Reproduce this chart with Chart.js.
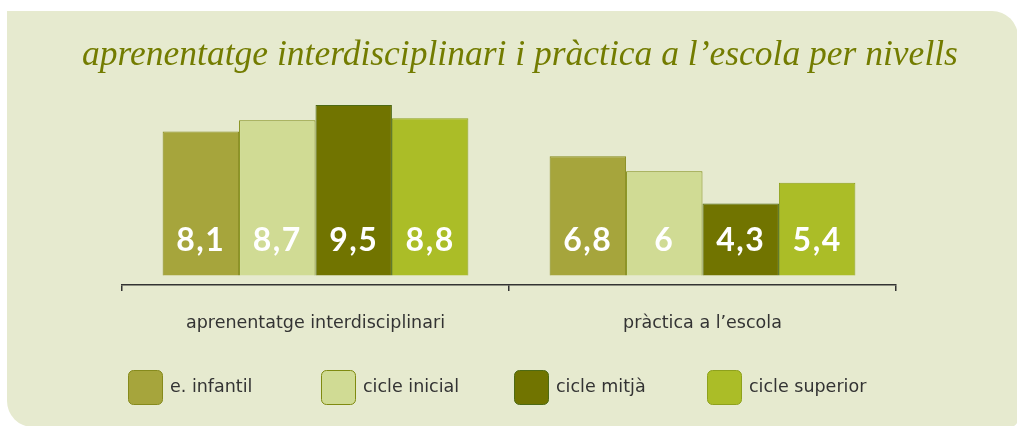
<!DOCTYPE html>
<html>
<head>
<meta charset="utf-8">
<script src="https://cdn.jsdelivr.net/npm/chart.js@4.4.1/dist/chart.umd.min.js"></script>
<style>
  html, body { margin: 0; padding: 0; background: #fff; }
  #wrap { width: 1017px; height: 426px; }
</style>
</head>
<body>
<div id="wrap"><canvas id="myChart" width="1017" height="426"></canvas></div>
<script>
// data
const categories = ['aprenentatge interdisciplinari', 'pràctica a l\u2019escola'];
const levels = ['e. infantil', 'cicle inicial', 'cicle mitjà', 'cicle superior'];
const infantil = [8.1, 6.8];
const inicial = [8.7, 6];
const mitja = [9.5, 4.3];
const superior = [8.8, 5.4];

const fills = ['#a6a53c', '#d0db94', '#717400', '#abbd27'];
const borders = ['#868a1c', '#7f8a10', '#4d6a14', '#8ea11c'];

const txt = '#333333';
const sans = "'DejaVu Sans', sans-serif";

// panel behind everything
const panel = {
    id: 'panel',
    beforeDraw: function (chart) {
        const ctx = chart.ctx;
        ctx.save();
        ctx.fillStyle = '#ffffff';
        ctx.fillRect(0, 0, chart.width, chart.height);
        ctx.fillStyle = '#e6eacf';
        ctx.beginPath();
        ctx.roundRect(7, 11, chart.width - 7 + 1, chart.height - 11 + 1, [0, 26, 8, 26]);
        ctx.fill();
        ctx.restore();
    }
};

// white numbers at the foot of each bar
const valueLabels = {
    id: 'valueLabels',
    afterDatasetsDraw: function (chart) {
        const ctx = chart.ctx;
        ctx.save();
        ctx.fillStyle = '#ffffff';
        ctx.font = "bold 32px Lato, 'DejaVu Sans', sans-serif";
        if ('letterSpacing' in ctx) ctx.letterSpacing = '1.5px';
        ctx.textAlign = 'center';
        ctx.textBaseline = 'middle';
        chart.data.datasets.forEach(function (ds, i) {
            chart.getDatasetMeta(i).data.forEach(function (bar, j) {
                const s = String(ds.data[j]).replace('.', ',');
                ctx.fillText(s, bar.x, bar.base - 35);
            });
        });
        ctx.restore();
    }
};

// legend row under the axis
const legendRow = {
    id: 'legendRow',
    afterDraw: function (chart) {
        const ctx = chart.ctx;
        const step = 193, box = 34;
        const x0 = chart.chartArea.left + 6;
        const y0 = chart.height - 56;
        ctx.save();
        ctx.font = '17.5px ' + sans;
        ctx.textBaseline = 'middle';
        ctx.textAlign = 'left';
        chart.data.datasets.forEach(function (ds, i) {
            const x = x0 + i * step;
            ctx.fillStyle = ds.backgroundColor;
            ctx.strokeStyle = ds.borderColor;
            ctx.lineWidth = 1;
            ctx.beginPath();
            ctx.roundRect(x + 0.5, y0 + 0.5, box, box, 5);
            ctx.fill();
            ctx.stroke();
            ctx.fillStyle = txt;
            ctx.fillText(ds.label, x + box + 8, y0 + box / 2);
        });
        ctx.restore();
    }
};

const series = [infantil, inicial, mitja, superior];

new Chart(document.getElementById('myChart'), {
    type: 'bar',
    data: {
        labels: categories,
        datasets: series.map(function (vals, i) {
            return {
                label: levels[i],
                data: vals,
                backgroundColor: fills[i],
                borderColor: borders[i],
                borderWidth: 1,
                base: 0.5,
                categoryPercentage: 0.79,
                barPercentage: 1
            };
        })
    },
    options: {
        responsive: false,
        animation: false,
        devicePixelRatio: 1,
        layout: { padding: { left: 23, right: 0, top: 0, bottom: 70 } },
        plugins: {
            legend: { display: false },
            tooltip: { enabled: false },
            title: {
                display: true,
                text: 'aprenentatge interdisciplinari i pràctica a l\u2019escola per nivells',
                color: '#737c00',
                font: { family: "'Liberation Serif', serif", style: 'italic', weight: 'normal', size: 35.5 },
                padding: { top: 34, bottom: 19 }
            }
        },
        scales: {
            x: {
                offset: true,
                grid: { display: true, drawOnChartArea: false, drawTicks: true, tickLength: 6, color: txt, lineWidth: 1.5, offset: true },
                border: { display: true, color: txt, width: 1.5 },
                ticks: { color: txt, font: { family: sans, size: 17.5 }, padding: 22 }
            },
            y: {
                min: 0,
                max: 10,
                ticks: { display: false },
                grid: { display: false },
                border: { display: false },
                afterFit: function (s) { s.width = 99; }
            },
            y2: {
                position: 'right',
                ticks: { display: false },
                grid: { display: false },
                border: { display: false },
                afterFit: function (s) { s.width = 121; }
            }
        }
    },
    plugins: [panel, valueLabels, legendRow]
});
</script>
</body>
</html>
